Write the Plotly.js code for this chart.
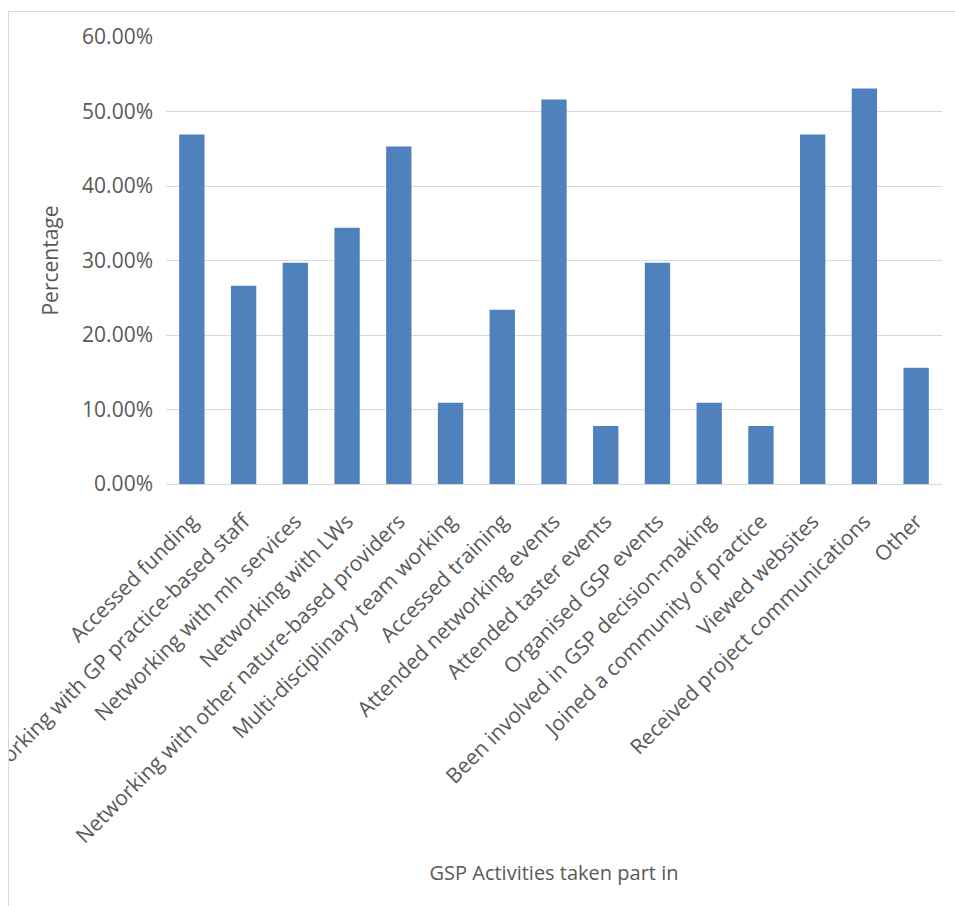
<!DOCTYPE html>
<html>
<head>
<meta charset="utf-8">
<script src="https://cdn.plot.ly/plotly-3.0.1.min.js"></script>
<style>
  html, body { margin: 0; padding: 0; background: #ffffff; overflow: hidden; }
  #chart { position: absolute; left: 8px; top: 11px; width: 947px; height: 895px; }
  #frame {
    position: absolute; left: 8px; top: 11px; right: -2px; bottom: -2px;
    border-top: 1px solid #d9d9d9; border-left: 1px solid #d9d9d9;
    pointer-events: none;
  }
</style>
</head>
<body>
<div id="chart"></div>
<div id="frame"></div>
<script>
// GSP activities and the share of respondents (%) who took part in each
const activities = [
  "Accessed funding",
  "Working with GP practice-based staff",
  "Networking with mh services",
  "Networking with LWs",
  "Networking with other nature-based providers",
  "Multi-disciplinary team working",
  "Accessed training",
  "Attended networking events",
  "Attended taster events",
  "Organised GSP events",
  "Been involved in GSP decision-making",
  "Joined a community of practice",
  "Viewed websites",
  "Received project communications",
  "Other"
];
const percentages = [46.9, 26.6, 29.7, 34.4, 45.3, 10.9, 23.4, 51.6, 7.8, 29.7, 10.9, 7.8, 46.9, 53.1, 15.6];
const yTickValues = [0, 10, 20, 30, 40, 50, 60];
const yTickLabels = ["0.00%", "10.00%", "20.00%", "30.00%", "40.00%", "50.00%", "60.00%"];

const textGrey = "#595959";
const gridGrey = "#d9d9d9";

const trace = {
  type: "bar",
  x: activities,
  y: percentages,
  marker: { color: "#4f81bd", line: { width: 0 } },
  hoverinfo: "x+y"
};

const layout = {
  width: 947,
  height: 895,
  margin: { l: 158, r: 13, t: 26, b: 422 },
  paper_bgcolor: "#ffffff",
  plot_bgcolor: "#ffffff",
  showlegend: false,
  bargap: 0.51,
  xaxis: {
    type: "category",
    tickangle: -45,
    tickfont: { family: "Open Sans, sans-serif", size: 21, color: textGrey },
    showgrid: false,
    showline: false,
    ticks: "",
    ticklabelstandoff: 20,
    automargin: "height",
    title: {
      text: "GSP Activities taken part in",
      standoff: 18,
      font: { family: "Open Sans, sans-serif", size: 20, color: textGrey }
    }
  },
  yaxis: {
    range: [0, 60],
    tickmode: "array",
    tickvals: yTickValues,
    ticktext: yTickLabels,
    tickfont: { family: "Open Sans, sans-serif", size: 21, color: textGrey },
    showgrid: true,
    gridcolor: gridGrey,
    gridwidth: 1,
    zeroline: true,
    zerolinecolor: gridGrey,
    zerolinewidth: 1,
    showline: false,
    ticks: "",
    ticklabelstandoff: 12,
    automargin: "width",
    title: {
      text: "Percentage",
      standoff: 17,
      font: { family: "Open Sans, sans-serif", size: 21, color: textGrey }
    }
  }
};

Plotly.newPlot("chart", [trace], layout, { displayModeBar: false, staticPlot: true });
</script>
</body>
</html>
